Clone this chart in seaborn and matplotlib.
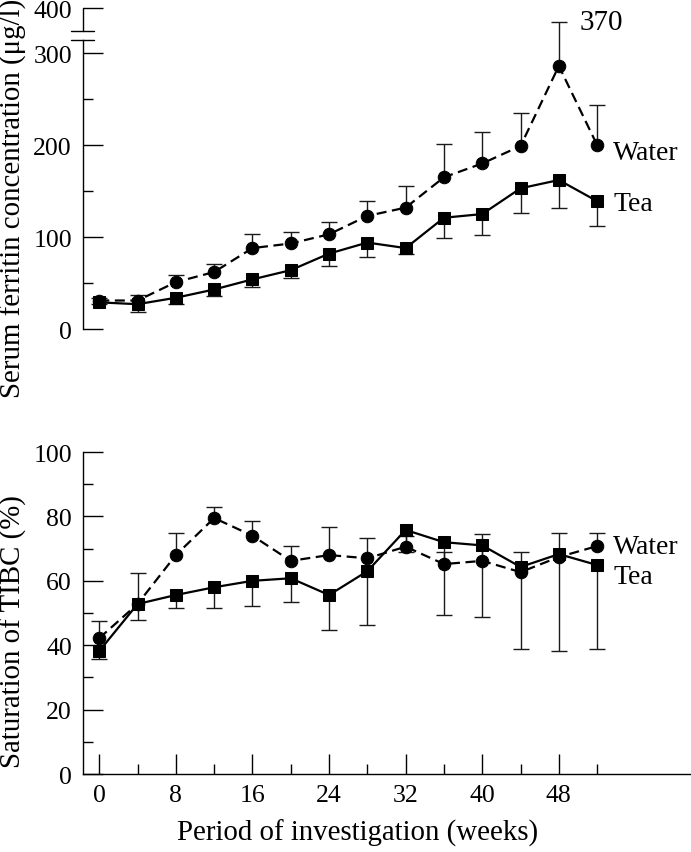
import numpy as np
import matplotlib
matplotlib.use("Agg")
import matplotlib.pyplot as plt
import matplotlib.transforms as mtransforms
from matplotlib.ticker import FixedLocator
import seaborn as sns

# weeks of investigation
weeks = [0, 4, 8, 12, 16, 20, 24, 28, 32, 36, 40, 44, 48, 52]

# serum ferritin (ug/l): mean and end of error bar (water up, tea down)
ferritin_water = [31, 31, 51, 62, 88, 93, 103, 123, 132, 165, 180, 199, 286, 200]
ferritin_water_hi = [34, 37, 59, 71, 103, 106, 116, 139, 156, 201, 214, 235, 370, 244]
ferritin_tea = [29, 27, 34, 43, 54, 64, 82, 94, 88, 121, 125, 153, 162, 139]
ferritin_tea_lo = [27, 19, 27, 36, 46, 55, 69, 78, 82, 99, 102, 126, 132, 112]

# saturation of TIBC (%)
tibc_water = [42.2, 52.8, 68.0, 79.5, 74.0, 66.2, 68.0, 67.0, 70.6, 65.2, 66.2, 62.7, 67.4, 70.8]
tibc_water_hi = [47.5, 62.4, 74.8, 82.9, 78.6, 70.8, 76.7, 73.3, 74.0, 69.0, 74.5, 69.0, 74.8, 74.8]
tibc_tea = [38.2, 52.8, 55.6, 58.0, 60.0, 60.8, 55.6, 63.0, 75.8, 72.0, 71.0, 64.3, 68.3, 64.9]
tibc_tea_lo = [35.7, 47.8, 51.6, 51.5, 52.2, 53.4, 44.7, 46.3, 69.0, 49.4, 48.8, 38.8, 38.2, 38.8]

sns.set_style("ticks", {"axes.edgecolor": "black", "xtick.color": "black",
                        "ytick.color": "black", "text.color": "black",
                        "axes.labelcolor": "black"})
plt.rcParams["font.family"] = ["Liberation Serif", "DejaVu Serif"]
plt.rcParams["axes.linewidth"] = 1.0

BREAK_K = 0.49


def fwd(y):
    y = np.asarray(y, dtype=float)
    return np.where(y <= 300, y, 300 + (y - 300) * BREAK_K)


def inv(z):
    z = np.asarray(z, dtype=float)
    return np.where(z <= 300, z, 300 + (z - 300) / BREAK_K)


def draw_series(ax, y, err_end, marker, dashed, upward):
    sns.lineplot(x=weeks, y=y, ax=ax, color="black", marker=marker,
                 markersize=9, markeredgecolor="black", linewidth=1.6,
                 errorbar=None, zorder=3)
    line = ax.lines[-1]
    if dashed:
        line.set_dashes((4.5, 2.5))
    y = np.array(y)
    e = np.array(err_end)
    if upward:
        yerr = [np.zeros_like(y), e - y]
    else:
        yerr = [y - e, np.zeros_like(y)]
    _, caps, _ = ax.errorbar(weeks, y, yerr=yerr, fmt="none", ecolor="#1a1a1a",
                             elinewidth=1.0, capsize=6, capthick=1.0, zorder=2)
    # keep only the cap at the far end of the bar
    caps[0 if upward else 1].set_visible(False)


fig = plt.figure(figsize=(6.91, 8.53), dpi=100)
ax1 = fig.add_axes([0.1201, 0.6131, 0.8785, 0.3763])
ax2 = fig.add_axes([0.1201, 0.0914, 0.8785, 0.3775])

LABEL_FS = 20.8
TICK_FS = 18.5

# ---- top panel: serum ferritin ----
ax1.set_yscale("function", functions=(fwd, inv))
draw_series(ax1, ferritin_water, ferritin_water_hi, "o", True, True)
draw_series(ax1, ferritin_tea, ferritin_tea_lo, "s", False, False)
ax1.set_xlim(-1.7, 61.7)
ax1.set_ylim(0, 400)
ax1.yaxis.set_major_locator(FixedLocator([0, 100, 200, 300, 400]))
ax1.yaxis.set_minor_locator(FixedLocator([50, 150, 250]))
ax1.set_yticklabels(["0", "100", "200", "300", "400"])
for s in ["top", "right", "bottom"]:
    ax1.spines[s].set_visible(False)
ax1.set_xticks([])
ax1.spines["left"].set_bounds(0, 330)
blend = mtransforms.blended_transform_factory(ax1.transAxes, ax1.transData)
ax1.plot([0, 0], [350, 400], transform=blend, color="black", lw=1.0, clip_on=False)
ax1.plot([-0.02, 0.018], [330, 330], transform=blend, color="black", lw=1.0, clip_on=False)
ax1.plot([-0.02, 0.018], [350, 350], transform=blend, color="black", lw=1.0, clip_on=False)
ax1.tick_params(axis="y", which="major", direction="in", length=14.5, width=1.0,
                pad=8, labelsize=TICK_FS)
ax1.tick_params(axis="y", which="minor", direction="in", length=7.2, width=1.0)
ax1.set_ylabel("Serum ferritin concentration (\u03bcg/l)", fontsize=LABEL_FS, va="center")
ax1.yaxis.set_label_coords(-0.115, 0.41)
ax1.text(weeks[12] + 2.2, ferritin_water_hi[12], "370", fontsize=21, va="center")
ax1.text(weeks[-1] + 1.7, ferritin_water[-1] - 8, "Water", fontsize=20, va="center")
ax1.text(weeks[-1] + 1.7, ferritin_tea[-1] - 3, "Tea", fontsize=20, va="center")

# ---- bottom panel: saturation of TIBC ----
draw_series(ax2, tibc_water, tibc_water_hi, "o", True, True)
draw_series(ax2, tibc_tea, tibc_tea_lo, "s", False, False)
ax2.set_xlim(-1.7, 61.7)
ax2.set_ylim(0, 100)
ax2.xaxis.set_major_locator(FixedLocator([0, 8, 16, 24, 32, 40, 48]))
ax2.xaxis.set_minor_locator(FixedLocator([4, 12, 20, 28, 36, 44, 52]))
ax2.yaxis.set_major_locator(FixedLocator([0, 20, 40, 60, 80, 100]))
ax2.yaxis.set_minor_locator(FixedLocator([10, 30, 50, 70, 90]))
for s in ["top", "right"]:
    ax2.spines[s].set_visible(False)
ax2.tick_params(which="major", direction="in", length=14.5, width=1.0,
                pad=8, labelsize=TICK_FS)
ax2.tick_params(which="minor", direction="in", length=7.2, width=1.0)
ax2.tick_params(axis="x", which="major", pad=7)
ax2.set_ylabel("Saturation of TIBC (%)", fontsize=LABEL_FS, va="center")
ax2.yaxis.set_label_coords(-0.115, 0.447)
ax2.set_xlabel("Period of investigation (weeks)", fontsize=LABEL_FS, va="center")
ax2.xaxis.set_label_coords(0.453, -0.18)
ax2.text(weeks[-1] + 1.7, tibc_water[-1], "Water", fontsize=20, va="center")
ax2.text(weeks[-1] + 1.7, tibc_tea[-1] - 3.4, "Tea", fontsize=20, va="center")

fig.savefig("out.png", dpi=100)
